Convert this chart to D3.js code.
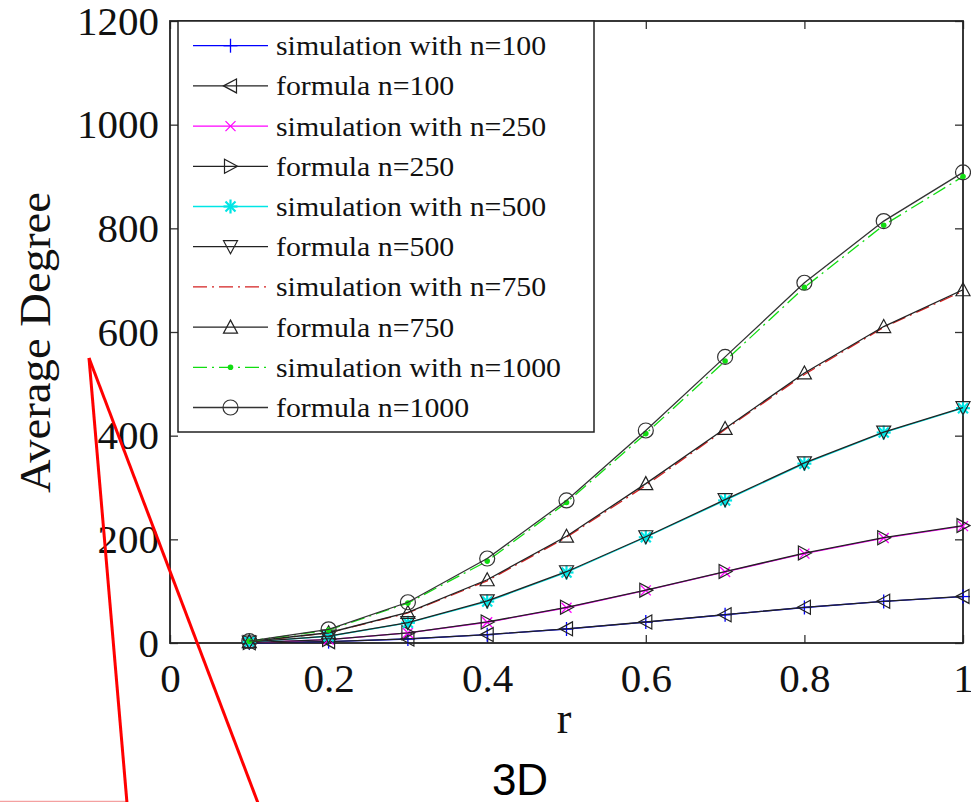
<!DOCTYPE html>
<html><head><meta charset="utf-8">
<script src="https://cdn.jsdelivr.net/npm/d3@7"></script>
<style>
html,body{margin:0;padding:0;background:#fff;}
svg{display:block;}
</style></head>
<body>
<svg id="chart" width="971" height="802"></svg>
<script>
// ---- data ----
const rValues = [0.1,0.2,0.3,0.4,0.5,0.6,0.7,0.8,0.9,1.0];
const xTickValues = [0,0.2,0.4,0.6,0.8,1];
const xTickLabels = ["0","0.2","0.4","0.6","0.8","1"];
const yTickValues = [0,200,400,600,800,1000,1200];
const yTickLabels = ["0","200","400","600","800","1000","1200"];

const sim100  = [0.4, 2.6, 7.7, 16, 27, 40.3, 54.5, 68.5, 80.3, 89.6];
const form100 = [0.4, 2.6, 7.8, 16.2, 27.3, 40.5, 54.6, 68.8, 80.5, 89.9];
const sim250  = [0.9, 6.5, 19.4, 40, 68, 101.5, 137, 172.5, 202.5, 225.5];
const form250 = [0.9, 6.6, 19.6, 40.6, 68.8, 102, 137.8, 173.5, 203.2, 226.5];
const sim500  = [1.9, 13, 39, 80, 136, 204, 275, 346, 406, 453];
const form500 = [1.9, 13.2, 39.3, 81.3, 137.5, 205, 276.5, 347.5, 407, 454];
const sim750  = [2.7, 19.5, 58, 120, 204, 304, 412, 518, 609, 679];
const form750 = [2.8, 19.8, 59, 122, 206, 307.5, 414, 521, 610.5, 681.5];
const sim1000 = [3.5, 25, 77, 158, 271, 404, 544, 686, 806, 900];
const form1000= [3.7, 26.4, 78.6, 163, 275, 410, 552, 695, 814, 908];

const seriesNames = [
  "simulation with n=100","formula n=100",
  "simulation with n=250","formula n=250",
  "simulation with n=500","formula n=500",
  "simulation with n=750","formula n=750",
  "simulation with n=1000","formula n=1000"
];
const seriesData = [sim100,form100,sim250,form250,sim500,form500,sim750,form750,sim1000,form1000];
const seriesColors = ["#0000ff","#222222","#ff00ff","#222222","#00e5e5","#222222","#d42020","#222222","#11dd11","#333333"];
const seriesDash = [null,null,null,null,null,null,"14,5,2,5",null,"14,5,2,5",null];
const seriesMarker = ["plus","triLeft","cross","triRight","star","triDown",null,"triUp","dot","circle"];

// ---- layout ----
const svg = d3.select("#chart");
const x = d3.scaleLinear().domain([0,1]).range([170,963]);
const y = d3.scaleLinear().domain([0,1200]).range([643,21]);
const serif = "'Liberation Serif','Times New Roman',serif";

// axes (inward ticks)
const gx = svg.append("g").attr("transform","translate(0,643)")
  .call(d3.axisBottom(x).tickValues(xTickValues).tickFormat((d,i)=>xTickLabels[i]).tickSize(-8).tickSizeOuter(0).tickPadding(20));
const gy = svg.append("g").attr("transform","translate(170,0)")
  .call(d3.axisLeft(y).tickValues(yTickValues).tickFormat((d,i)=>yTickLabels[i]).tickSize(-8).tickSizeOuter(0).tickPadding(11));
const gt = svg.append("g").attr("transform","translate(0,21)")
  .call(d3.axisTop(x).tickValues(xTickValues).tickFormat("").tickSize(-8).tickSizeOuter(0));
const gr = svg.append("g").attr("transform","translate(963,0)")
  .call(d3.axisRight(y).tickValues(yTickValues).tickFormat("").tickSize(-8).tickSizeOuter(0));
[gx,gy,gt,gr].forEach(g=>{
  g.select(".domain").remove();
  g.selectAll(".tick line").attr("stroke","#333").attr("stroke-width",1.3);
  g.selectAll("text").attr("font-family",serif).attr("font-size",41).attr("fill","#111");
});
svg.append("rect").attr("x",170).attr("y",21).attr("width",793).attr("height",622)
  .attr("fill","none").attr("stroke","#222").attr("stroke-width",1.8);

// markers
function drawMarker(g, type, cx, cy, color){
  const s = 7;
  const tri = (pts)=>g.append("path").attr("d","M"+pts.map(p=>(cx+p[0])+","+(cy+p[1])).join("L")+"Z")
      .attr("fill","none").attr("stroke",color).attr("stroke-width",1.2);
  const ln = (x1,y1,x2,y2,w)=>g.append("line").attr("x1",cx+x1).attr("y1",cy+y1).attr("x2",cx+x2).attr("y2",cy+y2)
      .attr("stroke",color).attr("stroke-width",w||1.3);
  switch(type){
    case "plus": ln(-s,0,s,0); ln(0,-s,0,s); break;
    case "cross": ln(-5,-5,5,5); ln(-5,5,5,-5); break;
    case "star": ln(-s,0,s,0,2.2); ln(0,-s,0,s,2.2); ln(-5,-5,5,5,2.2); ln(-5,5,5,-5,2.2); break;
    case "dot": g.append("circle").attr("cx",cx).attr("cy",cy).attr("r",2.8).attr("fill",color); break;
    case "circle": g.append("circle").attr("cx",cx).attr("cy",cy).attr("r",7.5).attr("fill","none").attr("stroke",color).attr("stroke-width",1.2); break;
    case "triLeft": tri([[-s,0],[6,-s],[6,s]]); break;
    case "triRight": tri([[s,0],[-6,-s],[-6,s]]); break;
    case "triDown": tri([[0,s],[-s,-6],[s,-6]]); break;
    case "triUp": tri([[0,-s],[-s,6],[s,6]]); break;
  }
}

// series
const line = d3.line().x((d,i)=>x(rValues[i])).y(d=>y(d));
const plot = svg.append("g");
seriesData.forEach((vals,k)=>{
  const g = plot.append("g");
  g.append("path").datum(vals).attr("d",line).attr("fill","none")
    .attr("stroke",seriesColors[k]).attr("stroke-width",1.3)
    .attr("stroke-dasharray",seriesDash[k]);
  if(seriesMarker[k]) vals.forEach((v,i)=>drawMarker(g,seriesMarker[k],x(rValues[i]),y(v),seriesColors[k]));
});

// legend
const leg = svg.append("g");
leg.append("rect").attr("x",178).attr("y",21).attr("width",416).attr("height",411)
  .attr("fill","#fff").attr("stroke","#222").attr("stroke-width",1.5);
seriesNames.forEach((name,k)=>{
  const cy = 45.7 + k*40.2;
  leg.append("line").attr("x1",193).attr("x2",268).attr("y1",cy).attr("y2",cy)
    .attr("stroke",seriesColors[k]).attr("stroke-width",1.3).attr("stroke-dasharray",seriesDash[k]);
  if(seriesMarker[k]) drawMarker(leg,seriesMarker[k],230.5,cy,seriesColors[k]);
  leg.append("text").attr("transform",`translate(276,${cy+9.5}) scale(1.065,1)`)
    .attr("font-family",serif).attr("font-size",28).attr("fill","#111").text(name);
});

// axis titles
svg.append("text").attr("transform","translate(50,342.5) rotate(-90)")
  .attr("text-anchor","middle").attr("font-family",serif).attr("font-size",44)
  .attr("textLength",301).attr("lengthAdjust","spacingAndGlyphs").attr("fill","#111").text("Average Degree");
svg.append("text").attr("x",564).attr("y",733).attr("text-anchor","middle")
  .attr("font-family",serif).attr("font-size",44).attr("fill","#111").text("r");
svg.append("text").attr("x",520).attr("y",795).attr("text-anchor","middle")
  .attr("font-family","'Liberation Sans',Arial,sans-serif").attr("font-size",44).attr("fill","#000").text("3D");

// annotation callout lines
svg.append("line").attr("x1",0).attr("x2",127).attr("y1",801.5).attr("y2",801.5).attr("stroke","#f4a0a0").attr("stroke-width",1.5);
svg.append("line").attr("x1",89).attr("y1",358).attr("x2",127).attr("y2",803).attr("stroke","#ff0000").attr("stroke-width",3);
svg.append("line").attr("x1",89).attr("y1",358).attr("x2",258).attr("y2",803).attr("stroke","#ff0000").attr("stroke-width",3);
</script>
</body></html>
